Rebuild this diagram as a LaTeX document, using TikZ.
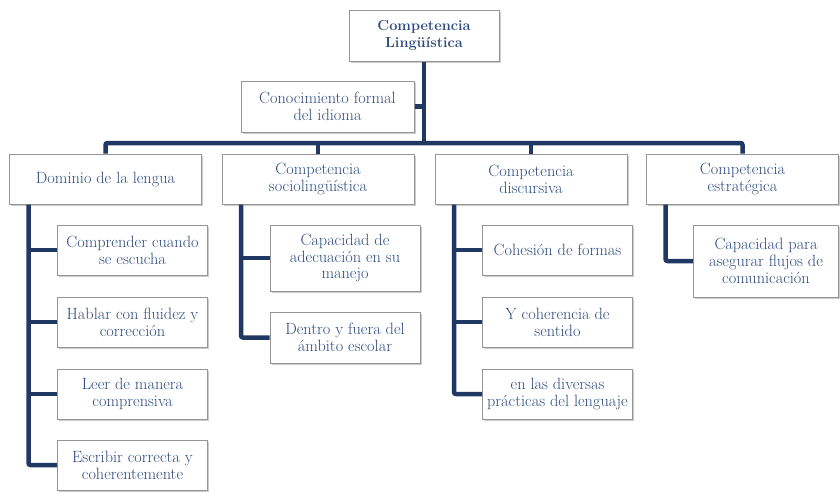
\documentclass[tikz,border=0pt]{standalone}
\usepackage{tikz}
\usetikzlibrary{shadows}
\definecolor{navyline}{RGB}{31,56,100}
\definecolor{boxtext}{RGB}{47,75,125}
\definecolor{boxborder}{RGB}{150,150,150}

\tikzset{
  mapbox/.style={draw=boxborder, line width=1pt, fill=white, text=boxtext,
    align=center, inner sep=0pt, font=\fontsize{16.3}{16.8}\selectfont,
    drop shadow={shadow xshift=1.5pt, shadow yshift=-2pt, opacity=0.4}},
  subbox/.style={mapbox, minimum width=150pt, minimum height=50pt},
  topbox/.style={mapbox, minimum width=192pt, minimum height=50pt},
  link/.style={draw=navyline, line width=4.5pt, rounded corners=2pt}
}

\begin{document}
\begin{tikzpicture}[x=1pt, y=-1pt]
    \useasboundingbox (0,0) rectangle (840,491);

    % root and first level
    \node[mapbox, minimum width=150pt, minimum height=51pt,
          font=\bfseries\fontsize{14.5}{17}\selectfont] (lingu) at (424,35.5) {Competencia\\Lingüística};
    \node[mapbox, minimum width=173pt, minimum height=51pt] (conoc) at (327.5,106.5) {Conocimiento formal\\del idioma};
    \node[topbox] (dominio) at (105.5,179) {Dominio de la lengua};
    \node[topbox] (socio) at (318,179) {Competencia\\sociolingüística};
    \node[topbox] (discur) at (531,179) {Competencia\\discursiva};
    \node[topbox] (estrat) at (742.5,179) {Competencia\\estratégica};

    % second level
    \node[subbox] (compr) at (132.5,250) {Comprender cuando\\se escucha};
    \node[subbox] (hablar) at (132.5,322) {Hablar con fluidez y\\corrección};
    \node[subbox] (leer) at (132.5,394) {Leer de manera\\comprensiva};
    \node[subbox] (escrib) at (132.5,465) {Escribir correcta y\\coherentemente};
    \node[subbox, minimum height=66pt] (adecua) at (345,258) {Capacidad de\\adecuación en su\\manejo};
    \node[subbox, minimum height=51pt] (dentro) at (345,337.5) {Dentro y fuera del\\ámbito escolar};
    \node[subbox] (cohes) at (557.5,250) {Cohesión de formas};
    \node[subbox] (coher) at (557.5,322) {Y coherencia de\\sentido};
    \node[subbox] (divers) at (557.5,394) {en las diversas\\prácticas del lenguaje};
    \node[subbox, minimum width=145pt, minimum height=72pt] (flujos) at (766,261) {Capacidad para\\asegurar flujos de\\comunicación};

    % connectors
    \coordinate (bus) at (424,143);
    \draw[link] (lingu.south) -- (bus);
    \draw[link] (conoc.east) -- (conoc.east -| bus);
    \draw[link] (dominio.north) |- (bus) -| (estrat.north);
    \draw[link] (socio.north) -- (socio.north |- bus);
    \draw[link] (discur.north) -- (discur.north |- bus);

    \coordinate (domS) at ([xshift=19.5pt]dominio.south west);
    \coordinate (socS) at ([xshift=19.5pt]socio.south west);
    \coordinate (disS) at ([xshift=19.5pt]discur.south west);
    \coordinate (estS) at ([xshift=19.5pt]estrat.south west);
    \draw[link] (domS) |- (escrib.west);
    \foreach \n in {compr,hablar,leer}
        \draw[link] (\n.west) -- (\n.west -| domS);
    \draw[link] (socS) |- (dentro.west);
    \draw[link] (adecua.west) -- (adecua.west -| socS);
    \draw[link] (disS) |- (divers.west);
    \foreach \n in {cohes,coher}
        \draw[link] (\n.west) -- (\n.west -| disS);
    \draw[link] (estS) |- (flujos.west);
\end{tikzpicture}
\end{document}
